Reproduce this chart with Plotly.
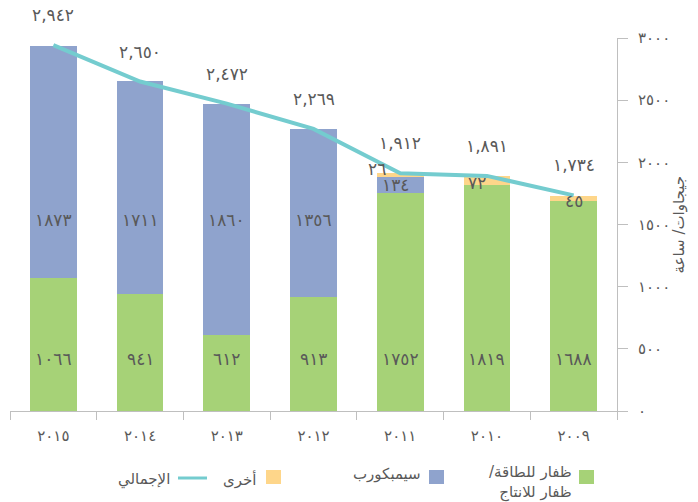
import plotly.graph_objects as go

# ---------------- data ----------------
years = ["2015", "2014", "2013", "2012", "2011", "2010", "2009"]
dhofar = [1066, 941, 612, 913, 1752, 1819, 1688]
sembcorp = [1873, 1711, 1860, 1356, 134, 0, 0]
other = [0, 0, 0, 0, 26, 72, 45]
total = [2942, 2650, 2472, 2269, 1912, 1891, 1734]
y_ticks = [0, 500, 1000, 1500, 2000, 2500, 3000]

name_dhofar = "ظفار للطاقة/\u200f<br>ظفار للانتاج"
name_semb = "سيمبكورب"
name_other = "أخرى"
name_total = "الإجمالي"
y_title = "جيجاوات/ ساعة"

AR = str.maketrans("0123456789", "٠١٢٣٤٥٦٧٨٩")


def ar(v, comma=False):
    if isinstance(v, str):
        return v.translate(AR)
    s = f"{v:,}" if comma else str(v)
    return s.translate(AR)


cats = [ar(y) for y in years]

# ---------------- style ----------------
OFF = 8  # default page margin of the html body
W, H = 698 - OFF, 502 - OFF
ML, MR, MT, MB = 2, 81, 30, 91
C_GREEN = "#A6D277"
C_BLUE = "#8FA3CD"
C_ORANGE = "#FED68A"
C_LINE = "#74CCCF"
C_TEXT = "#595959"
C_AXIS = "#BFBFBF"
FONT = "DejaVu Sans"

PW = W - ML - MR
PH = H - MT - MB


def px_x(px):
    return (px - OFF - ML) / PW


def px_y(py):
    return (H - MB - (py - OFF)) / PH


fig = go.Figure()
for vals, col in [(dhofar, C_GREEN), (sembcorp, C_BLUE), (other, C_ORANGE)]:
    fig.add_trace(go.Bar(x=cats, y=vals, marker=dict(color=col, line=dict(width=0)),
                         width=0.54, showlegend=False, hoverinfo="skip"))

fig.add_trace(go.Scatter(x=cats, y=total, mode="lines",
                         line=dict(color=C_LINE, width=4), showlegend=False,
                         hoverinfo="skip"))

ann = []
GREEN_LEVEL = 415
BLUE_LEVEL = 1540
lab_font = dict(family=FONT, size=17, color=C_TEXT)
for i, c in enumerate(cats):
    g, s, o = dhofar[i], sembcorp[i], other[i]
    ann.append(dict(x=c, y=GREEN_LEVEL, text=ar(g), showarrow=False, font=lab_font))
    if s > 0:
        yv = BLUE_LEVEL if s >= 300 else g + s / 2
        ann.append(dict(x=c, y=yv, text=ar(s), showarrow=False, font=lab_font,
                        xshift=0 if s >= 300 else -5))
    if o > 0:
        if o >= 40:
            ann.append(dict(x=c, y=g + s + o / 2, text=ar(o), showarrow=False,
                            font=lab_font, yshift=-3, xshift=-10 if o > 60 else 0))
        else:
            ann.append(dict(x=c, y=g + s + o, text=ar(o), showarrow=False,
                            font=lab_font, yshift=4, xshift=-23))
    ann.append(dict(x=c, y=total[i], text=ar(total[i], True), showarrow=False,
                    font=lab_font, yshift=30, borderpad=0))

ann.append(dict(x=1, y=0.5, xref="paper", yref="paper", xshift=72, text=y_title,
                textangle=-90, showarrow=False,
                font=dict(family=FONT, size=15, color=C_TEXT)))

leg_font = dict(family=FONT, size=15, color=C_TEXT)
shapes = []


def square(x0, x1, y0, y1, col):
    shapes.append(dict(type="rect", xref="paper", yref="paper",
                       x0=px_x(x0), x1=px_x(x1), y0=px_y(y1), y1=px_y(y0),
                       fillcolor=col, line=dict(width=0)))


def legtext(xr, yc, txt):
    ann.append(dict(x=px_x(xr), y=px_y(yc), xref="paper", yref="paper",
                    xanchor="right", yanchor="middle", align="right",
                    text=txt, showarrow=False, font=leg_font))


square(579, 594, 470, 484, C_GREEN)
legtext(574, 483, name_dhofar)
square(429, 444, 470, 484, C_BLUE)
legtext(423, 474, name_semb)
square(266, 281, 470, 484, C_ORANGE)
legtext(258, 479, name_other)
shapes.append(dict(type="line", xref="paper", yref="paper",
                   x0=px_x(178), x1=px_x(207), y0=px_y(478), y1=px_y(478),
                   line=dict(color=C_LINE, width=3)))
legtext(172, 480, name_total)

fig.update_layout(
    width=W, height=H,
    margin=dict(l=ML, r=MR, t=MT, b=MB),
    paper_bgcolor="white", plot_bgcolor="white",
    barmode="stack",
    annotations=ann, shapes=shapes,
    showlegend=False,
    font=dict(family=FONT, color=C_TEXT),
    xaxis=dict(type="category", categoryorder="array", categoryarray=cats,
               range=[-0.5, len(cats) - 0.5],
               showline=True, linecolor=C_AXIS, linewidth=1,
               ticks="outside", tickson="boundaries", ticklen=8,
               tickcolor=C_AXIS, showgrid=False, zeroline=False,
               tickfont=dict(family=FONT, size=15, color=C_TEXT),
               ticklabelstandoff=11, fixedrange=True),
    yaxis=dict(side="right", range=[0, 3000], tickvals=y_ticks,
               ticktext=[ar(v) for v in y_ticks],
               showline=True, linecolor=C_AXIS, linewidth=1,
               ticks="outside", ticklen=10, tickcolor=C_AXIS,
               showgrid=False, zeroline=False,
               tickfont=dict(family=FONT, size=15, color=C_TEXT),
               ticklabelstandoff=7, fixedrange=True),
)

fig.write_html("out.html")
